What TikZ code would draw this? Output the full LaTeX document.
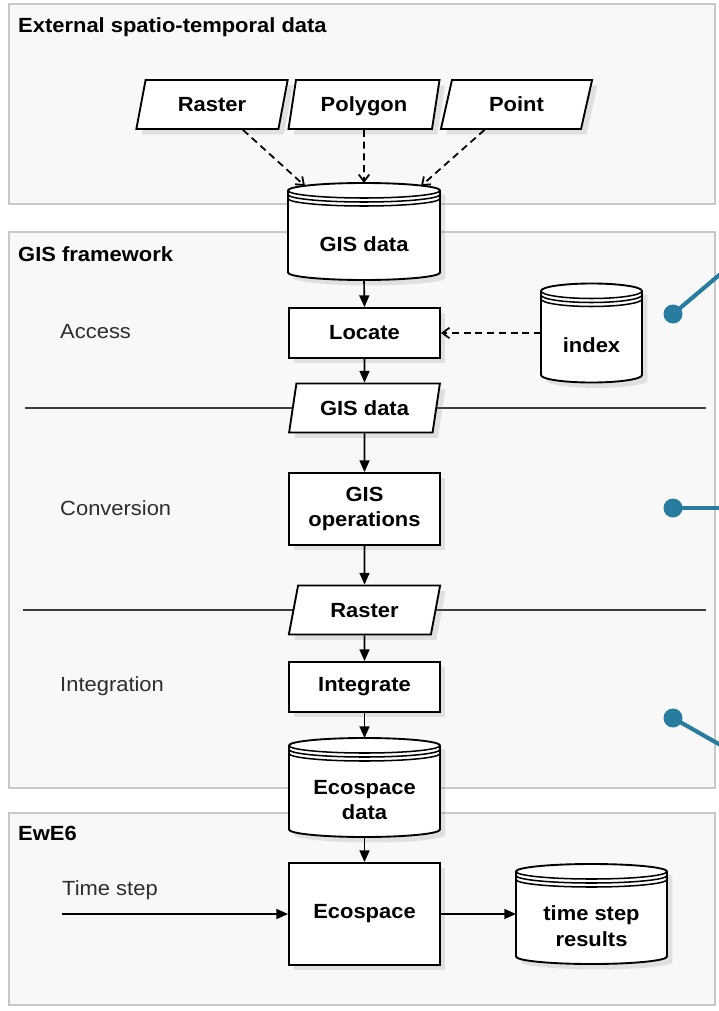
\documentclass[tikz,border=0pt]{standalone}
\usepackage{fontspec}
\setmainfont{Liberation Sans}[FakeStretch=1.07]
\usetikzlibrary{shapes.geometric,arrows.meta,shadows}

\newlength{\du}
\setlength{\du}{0.03cm}
\newlength{\dbry}
\setlength{\dbry}{7.5\du}

\definecolor{panelfill}{RGB}{248,248,248}
\definecolor{panelline}{RGB}{200,200,200}
\definecolor{sepgray}{RGB}{60,60,60}
\definecolor{labelgray}{RGB}{45,45,45}
\definecolor{calloutblue}{RGB}{40,124,160}

\tikzset{
  panel/.style={draw=panelline, fill=panelfill, line width=1.6pt},
  panelttl/.style={anchor=west, font=\bfseries, inner sep=0pt},
  stage/.style={anchor=west, text=labelgray, inner sep=0pt},
  procbox/.style={draw, fill=white, line width=1.6pt, minimum width=151\du,
    font=\bfseries, align=center, drop shadow={opacity=0.2}},
  databox/.style={trapezium, trapezium left angle=74, trapezium right angle=106,
    trapezium stretches=true, draw, fill=white, line width=1.6pt,
    minimum width=152\du, minimum height=49\du, inner sep=1pt,
    text height=0.72em, text depth=0pt,
    font=\bfseries, drop shadow={opacity=0.2}},
  dbbox/.style={rectangle, inner sep=0pt, outer sep=0pt},
  dbline/.style={draw, fill=white, line width=1.6pt, drop shadow={opacity=0.2}},
  dbring/.style={line width=1.3pt},
  dbtext/.style={font=\bfseries, align=center},
  flow/.style={line width=1.4pt, -{Triangle[length=10pt,width=8.5pt]}},
  fetch/.style={line width=1.5pt, dash pattern=on 6pt off 4pt,
    -{Straight Barb[length=6pt,width=9pt]}},
  sepline/.style={draw=sepgray, line width=1.7pt},
  dot/.style={circle, fill=calloutblue, minimum size=19\du, inner sep=0pt},
  callout/.style={draw=calloutblue, line width=3.5pt},
}

% database cylinder: name, centre x, centre y, width, height, text
\newcommand{\database}[6]{%
  \path (#2,#3) node[dbbox, minimum width=#4\du, minimum height=#5\du] (#1) {};
  \draw[dbline] ([yshift=-\dbry]#1.north west) -- ([yshift=\dbry]#1.south west)
    arc[start angle=180, end angle=360, x radius=#4\du/2, y radius=\dbry]
    -- ([yshift=-\dbry]#1.north east)
    arc[start angle=0, end angle=180, x radius=#4\du/2, y radius=\dbry] -- cycle;
  \foreach \ring in {0,4,8}
    \draw[dbring] ([yshift=-\dbry-\ring\du]#1.north west)
      arc[start angle=180, end angle=360, x radius=#4\du/2, y radius=\dbry];
  \node[dbtext] (#1txt) at ([yshift=-12.5\du]#1.center) {#6};
}

\begin{document}
\fontsize{17.5pt}{22pt}\selectfont
\begin{tikzpicture}[x=1\du, y=-1\du]
\useasboundingbox (0,0) rectangle (718,1011);

% panels
\draw[panel] (9,4) rectangle (715,204);
\draw[panel] (9,232) rectangle (715,788);
\draw[panel] (9,813) rectangle (715,1005);
\node[panelttl] (extttl) at (18,27) {External spatio-temporal data};
\node[panelttl] (gisttl) at (18,254) {GIS framework};
\node[panelttl] (ewettl) at (18,833) {EwE6};

% stages of the GIS framework
\draw[sepline] (25,408) -- (706,408);
\draw[sepline] (23,610) -- (706,610);
\node[stage] (access) at (60,332) {Access};
\node[stage] (conversion) at (60,508) {Conversion};
\node[stage] (integration) at (60,686) {Integration};
\node[stage] (timestep) at (62,890) {Time step};

% external data
\node[databox] (rasterin) at (212,104.5) {Raster};
\node[databox] (polyin) at (364,104.5) {Polygon};
\node[databox] (pointin) at (516.5,104.5) {Point};

\database{gisdb}{364}{231.5}{152}{97}{GIS data}

\node[procbox, minimum height=50\du] (locate) at (364.5,333) {Locate};
\database{index}{591.5}{333}{101}{99}{index}
\node[databox] (gisdata) at (364.5,408) {GIS data};
\node[procbox, minimum height=72\du] (gisops) at (364.5,509) {GIS\\operations};
\node[databox] (raster) at (364.5,610) {Raster};
\node[procbox, minimum height=50\du] (integrate) at (364.5,687) {Integrate};
\database{ecodb}{364.5}{787.5}{151}{99}{Ecospace\\data}

% EwE6
\node[procbox, minimum height=102\du] (ecospace) at (364.5,914) {Ecospace};
\database{results}{591.5}{914}{151}{100}{time step\\results}
\coordinate (tstart) at (62,914);

% connectors
\draw[fetch] ([xshift=31\du]rasterin.south) -- ([xshift=-59\du,yshift=-3\du]gisdb.north);
\draw[fetch] (polyin.south) -- (gisdb.north);
\draw[fetch] ([xshift=-32\du]pointin.south) -- ([xshift=57\du,yshift=-3\du]gisdb.north);
\draw[flow] (gisdb.south) -- (locate.north);
\draw[fetch] (index.west) -- (locate.east);
\draw[flow] (locate.south) -- (gisdata.north);
\draw[flow] (gisdata.south) -- (gisops.north);
\draw[flow] (gisops.south) -- (raster.north);
\draw[flow] (raster.south) -- (integrate.north);
\draw[flow] (integrate.south) -- (ecodb.north);
\draw[flow] (ecodb.south) -- (ecospace.north);
\draw[flow] (tstart) -- (ecospace.west);
\draw[flow] (ecospace.east) -- (results.west);

% callouts
\node[dot] (dotacc) at (673,314) {};
\node[dot] (dotconv) at (673,508) {};
\node[dot] (dotint) at (673,718) {};
\coordinate (accend) at (724,271);
\coordinate (convend) at (724,508);
\coordinate (intend) at (724,747);
\draw[callout] (dotacc.center) -- (accend);
\draw[callout] (dotconv.center) -- (convend);
\draw[callout] (dotint.center) -- (intend);
\end{tikzpicture}
\end{document}
